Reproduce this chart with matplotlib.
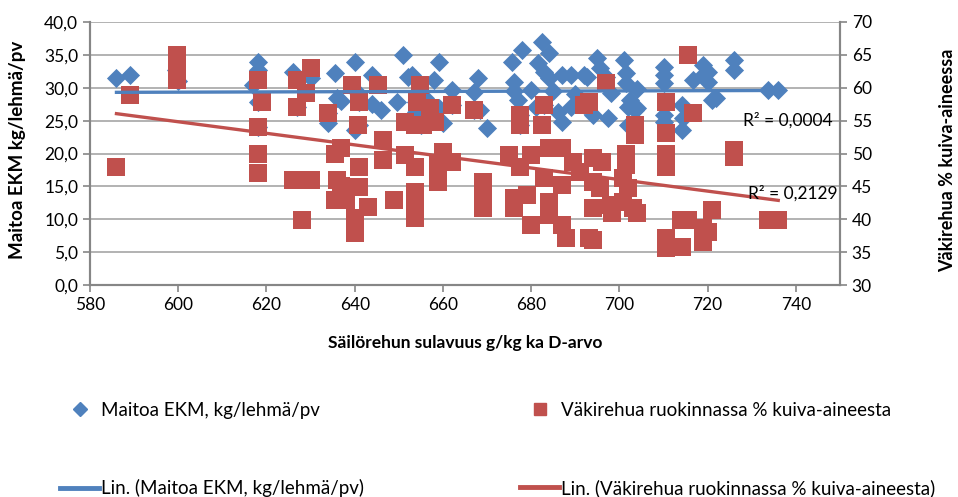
import matplotlib
matplotlib.use("Agg")
import matplotlib.pyplot as plt
import numpy as np
from matplotlib.lines import Line2D

plt.rcParams["font.family"] = ["Lato", "DejaVu Sans"]

# Maitoa EKM, kg/lehmä/pv (left axis); some points sit under the red squares
milk_x = [586, 589, 599.5, 618, 618, 617, 626, 630, 634, 636, 635.5, 637, 640, 640, 640,
          644, 644, 646, 649.5, 651, 652, 653, 654, 656, 658, 659, 659, 660, 662, 667,
          668, 668.4, 670, 675.7, 676, 676, 677, 678, 680, 681, 681.6, 682.5, 683, 684,
          684, 685, 686, 687, 687, 689, 689, 690, 692, 692.7, 694, 695, 695.7, 697,
          697.5, 698, 701, 701.4, 701.4, 702, 702, 702.5, 703.6, 704, 704, 710, 710, 710,
          710, 710, 714.3, 714.5, 714.3, 716.6, 719, 719, 720, 720, 721, 722, 726, 726,
          733.6, 736,
          600, 618, 618, 627, 634, 641, 641, 654, 655, 662, 667, 677.5, 677.5, 683, 692]
milk_y = [31.5, 31.9, 32.7, 33.9, 32.7, 30.4, 32.4, 31.5, 24.6, 28.4, 32.2, 28.0, 33.9, 29.7, 23.6,
          31.9, 27.5, 26.6, 27.8, 35.0, 31.6, 31.9, 26.3, 28.4, 31.2, 33.9, 26.9, 24.6, 29.7, 29.4,
          31.5, 26.6, 23.9, 33.9, 30.9, 29.5, 28.1, 35.7, 29.7, 27.1, 33.8, 37.0, 32.4, 35.3,
          31.5, 29.5, 26.3, 31.9, 24.8, 31.9, 27.1, 29.0, 31.9, 31.6, 25.9, 34.5, 33.0, 31.6,
          25.4, 29.2, 34.2, 32.2, 30.7, 27.1, 24.3, 28.1, 26.6, 26.9, 29.8, 33.2, 31.9, 30.7,
          25.9, 24.8, 27.4, 25.4, 23.6, 31.2, 33.5, 31.9, 32.4, 30.9, 28.1, 28.4, 34.2, 32.7,
          29.7, 29.7,
          31.0, 27.8, 24.0, 27.1, 26.2, 27.8, 24.3, 27.8, 24.3, 27.4, 26.6, 25.9, 24.3, 27.4, 27.4]

# Väkirehua ruokinnassa % kuiva-aineesta (right axis)
feed_x = [586, 589, 599.8, 599.8, 599.8, 618, 619, 618, 618, 618, 626, 627, 627, 628, 629,
          630, 630, 634, 635.5, 635.5, 636, 637, 637, 638, 639.3, 645.2, 641, 640.7, 641,
          641, 640, 640, 643, 646.4, 646.4, 651.4, 651.4, 653.6, 649, 653.6, 653.6, 653.6,
          654.8, 654.1, 655.5, 653.6, 657, 658.2, 662, 660, 658.9, 658.9, 662, 667, 669,
          669, 669, 677.5, 677.5, 682.5, 683, 675, 680, 677.5, 684, 687, 683, 687, 689.5,
          691, 676, 676, 679, 680, 684, 684, 687, 688, 692, 693, 697, 693, 703.6, 703.6,
          701.4, 701.4, 700.7, 702, 700.7, 703, 704, 694, 696, 694, 695.7, 694, 698, 698.4,
          694, 710.5, 710.5, 710.5, 710.5, 710.5, 710.5, 714.3, 714, 715.5, 715.5, 716.6,
          719, 719, 721, 726, 726, 733.6, 736, 720]
feed_y = [47.9, 58.9, 65.0, 63.5, 61.2, 61.2, 57.8, 54.0, 50.0, 47.0, 46.0, 61.2, 57.1, 39.9, 59.2,
          63.0, 46.0, 56.2, 50.0, 42.9, 46.0, 50.8, 45.0, 42.9, 60.4, 60.4, 57.8, 54.3, 47.9,
          44.9, 40.2, 37.9, 41.9, 52.1, 49.0, 54.8, 49.8, 47.9, 42.9, 44.1, 42.9, 40.2,
          60.4, 57.8, 54.3, 54.3, 56.9, 54.8, 57.4, 50.2, 48.3, 45.7, 48.7, 56.6, 45.7,
          43.7, 41.7, 55.9, 54.3, 54.3, 57.4, 49.8, 49.8, 47.9, 50.8, 50.8, 46.3, 45.2, 48.7,
          47.2, 43.2, 41.7, 43.7, 39.1, 42.6, 40.6, 39.1, 37.1, 57.4, 37.1, 60.7, 57.8, 54.3, 52.8,
          50.0, 48.3, 46.3, 44.8, 42.6, 41.7, 40.9, 49.3, 48.7, 45.7, 44.8, 41.7, 42.2, 40.9,
          36.8, 57.8, 53.1, 50.0, 47.9, 37.1, 35.6, 35.8, 39.9, 39.9, 65.0, 56.2,
          38.7, 36.5, 41.4, 50.5, 49.5, 39.9, 39.9, 38.0]

left_ticks = [0, 5, 10, 15, 20, 25, 30, 35, 40]
right_ticks = [30, 35, 40, 45, 50, 55, 60, 65, 70]
x_ticks = [580, 600, 620, 640, 660, 680, 700, 720, 740]

BLUE = "#4F81BD"
RED = "#C0504D"
AXIS = "#868686"

fig = plt.figure(figsize=(9.58, 4.97), dpi=100)
ax = fig.add_axes([90 / 958, 1 - 285 / 497, 750 / 958, 263 / 497])
ax2 = ax.twinx()

ax.set_xlim(580, 750)
ax.set_ylim(0, 40)
ax2.set_ylim(30, 70)

ax.set_xticks(x_ticks)
ax.set_xticklabels([str(t) for t in x_ticks])
ax.set_yticks(left_ticks)
ax.set_yticklabels([f"{t:.1f}".replace(".", ",") for t in left_ticks])
ax2.set_yticks(right_ticks)
ax2.set_yticklabels([str(t) for t in right_ticks])

ax.grid(axis="y", color="#A6A6A6", linewidth=1.2)
ax.set_axisbelow(True)
for a in (ax, ax2):
    a.spines["top"].set_visible(False)
    for side in ("left", "bottom", "right"):
        a.spines[side].set_color(AXIS)
        a.spines[side].set_linewidth(1.5)
    a.tick_params(colors=AXIS, labelcolor="black", labelsize=12.5, length=5, width=1.2)

# blue first, red squares drawn over it (Excel series order)
ax2.scatter(milk_x, np.array(milk_y) + 30, marker="D", s=95, color=BLUE, zorder=2, linewidths=0)
ax2.scatter(feed_x, feed_y, marker="s", s=175, color=RED, zorder=3, linewidths=0)

# linear trend lines
mx = np.array(milk_x)
fx = np.array(feed_x)
pm = np.polyfit(mx, milk_y, 1)
pf = np.polyfit(fx, feed_y, 1)
xm = np.array([mx.min(), mx.max()])
xf = np.array([fx.min(), fx.max()])
ax2.plot(xf, np.polyval(pf, xf), color=RED, linewidth=2.4, zorder=4)
ax2.plot(xm, np.polyval(pm, xm) + 30, color=BLUE, linewidth=2.4, zorder=4)

ax2.text(728, 55.1, "R² = 0,0004", fontsize=12.5, va="center", ha="left", zorder=5)
ax2.text(729.2, 44.0, "R² = 0,2129", fontsize=12.5, va="center", ha="left", zorder=5)

ax.set_xlabel("Säilörehun sulavuus g/kg ka D-arvo", fontsize=12.5, fontweight="bold", labelpad=16)
fig.text(18 / 958, 1 - 150 / 497, "Maitoa EKM kg/lehmä/pv", rotation=90, fontsize=13.5,
         fontweight="bold", ha="center", va="center")
fig.text(948 / 958, 1 - 160 / 497, "Väkirehua % kuiva-aineessa", rotation=90, fontsize=13,
         fontweight="bold", ha="center", va="center")

handles = [
    Line2D([], [], marker="D", color=BLUE, linestyle="none", markersize=7),
    Line2D([], [], color=BLUE, linewidth=3.5),
    Line2D([], [], marker="s", color=RED, linestyle="none", markersize=9),
    Line2D([], [], color=RED, linewidth=3.5),
]
labels = [
    "Maitoa EKM, kg/lehmä/pv",
    "Lin. (Maitoa EKM, kg/lehmä/pv)",
    "Väkirehua ruokinnassa % kuiva-aineesta",
    "Lin. (Väkirehua ruokinnassa % kuiva-aineesta)",
]
fig.legend(handles, labels, ncol=2, loc="upper left", bbox_to_anchor=(60 / 958, 1 - 402 / 497),
           frameon=False, fontsize=13.5, labelspacing=3.2, columnspacing=8.3,
           handlelength=2.1, handletextpad=0.1, borderpad=0, borderaxespad=0)

fig.savefig("out.png", dpi=100)
